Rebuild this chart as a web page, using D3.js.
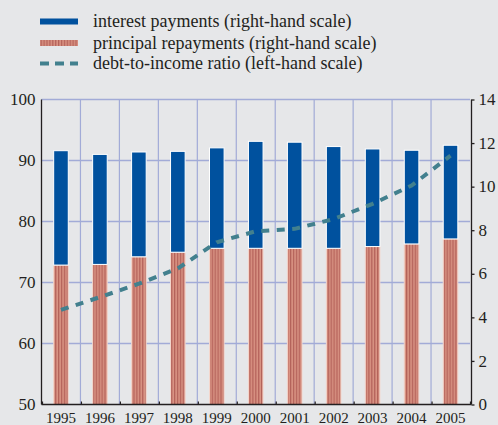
<!DOCTYPE html>
<html><head><meta charset="utf-8">
<script src="https://cdn.jsdelivr.net/npm/d3@7"></script>
<style>
html,body{margin:0;padding:0;background:#e6e7e9;}
#chart text{font-family:"Liberation Serif","Times New Roman",Times,serif;}
</style>
</head>
<body>
<svg id="chart" width="498" height="425" font-family="Liberation Serif"></svg>
<script>
const years = ["1995","1996","1997","1998","1999","2000","2001","2002","2003","2004","2005"];
const principal = [6.40, 6.43, 6.78, 6.99, 7.17, 7.17, 7.17, 7.17, 7.25, 7.37, 7.60];
const interest  = [5.25, 5.05, 4.81, 4.63, 4.61, 4.91, 4.87, 4.67, 4.48, 4.30, 4.30];
const debtRatio = [65.5, 67.6, 69.8, 72.3, 76.6, 78.4, 78.8, 80.4, 82.9, 85.9, 90.8];
const leftTicks = [50, 60, 70, 80, 90, 100];
const rightTicks = [0, 2, 4, 6, 8, 10, 12, 14];
const legendLabels = ["interest payments (right-hand scale)", "principal repayments (right-hand scale)", "debt-to-income ratio (left-hand scale)"];

const FONT = "Liberation Serif";
const svg = d3.select("#chart");
const W = 498, H = 425;
const m = {left: 41.5, right: 470, top: 99.5, bottom: 404.5};
const ink = "#231f20", blue = "#00519e", teal = "#42808e", grid = "#a2abd7";

svg.append("rect").attr("width", W).attr("height", H).attr("fill", "#e6e7e9");

const defs = svg.append("defs");
const pat = defs.append("pattern").attr("id", "stripes").attr("patternUnits", "userSpaceOnUse")
  .attr("width", 2.9).attr("height", 10);
pat.append("rect").attr("width", 2.9).attr("height", 10).attr("fill", "#d99383");
pat.append("rect").attr("width", 1.3).attr("height", 10).attr("fill", "#b4625a");

const x = d3.scaleBand().domain(years).range([m.left, m.right]).padding(0);
const yL = d3.scaleLinear().domain([50, 100]).range([m.bottom, m.top]);
const yR = d3.scaleLinear().domain([0, 14]).range([m.bottom, m.top]);

const g = svg.append("g");
g.selectAll("line.h").data(leftTicks.filter(d => d > 50)).join("line")
  .attr("x1", m.left).attr("x2", m.right).attr("y1", d => yL(d)).attr("y2", d => yL(d))
  .attr("stroke", grid).attr("stroke-width", 1.4);
g.selectAll("line.v").data(years.slice(1)).join("line")
  .attr("x1", d => x(d)).attr("x2", d => x(d)).attr("y1", m.top).attr("y2", m.bottom)
  .attr("stroke", grid).attr("stroke-width", 1.2);

const bw = 14.6;
const bars = svg.append("g");
bars.selectAll("rect.p").data(years).join("rect")
  .attr("x", d => x(d) + x.bandwidth()/2 - bw/2).attr("width", bw)
  .attr("y", (d,i) => yR(principal[i])).attr("height", (d,i) => yR(0) - yR(principal[i]))
  .attr("fill", "url(#stripes)").attr("stroke", "#f4d6cc").attr("stroke-width", 1);
bars.selectAll("rect.i").data(years).join("rect")
  .attr("x", d => x(d) + x.bandwidth()/2 - bw/2).attr("width", bw)
  .attr("y", (d,i) => yR(principal[i] + interest[i])).attr("height", (d,i) => yR(principal[i]) - yR(principal[i] + interest[i]))
  .attr("fill", blue).attr("stroke", "#ffffff").attr("stroke-width", 1);

const line = d3.line().x((d,i) => x(years[i]) + x.bandwidth()/2).y(d => yL(d));
svg.append("path").datum(debtRatio).attr("d", line).attr("fill", "none")
  .attr("stroke", teal).attr("stroke-width", 4).attr("stroke-dasharray", "8,7.5");

const axL = svg.append("g").attr("transform", `translate(${m.left},0)`)
  .call(d3.axisLeft(yL).tickValues(leftTicks).tickSize(0).tickPadding(6));
axL.select(".domain").attr("stroke", ink).attr("stroke-width", 1.3).attr("d", `M0,${m.top}V${m.bottom}`);

const axR = svg.append("g").attr("transform", `translate(${m.right + 1.5},0)`)
  .call(d3.axisRight(yR).tickValues(rightTicks).tickSize(3).tickPadding(4));
axR.select(".domain").attr("stroke", ink).attr("stroke-width", 1.3).attr("d", `M0,${yR(14)}V${m.bottom}`);
axR.selectAll(".tick line").attr("stroke", ink).attr("stroke-width", 1.3);

const axB = svg.append("g").attr("transform", `translate(0,${m.bottom})`)
  .call(d3.axisBottom(x).tickSize(0).tickPadding(0));
axB.select(".domain").attr("stroke", ink).attr("stroke-width", 1.3).attr("d", `M${m.left},0H${m.right + 1.5}`);
svg.append("g").selectAll("line").data(years.concat(["end"])).join("line")
  .attr("x1", (d,i) => i < years.length ? x(d) + 1 : m.right + 0.5)
  .attr("x2", (d,i) => i < years.length ? x(d) + 1 : m.right + 0.5)
  .attr("y1", m.bottom).attr("y2", m.bottom - 3).attr("stroke", ink).attr("stroke-width", 1.2);

[axL, axR, axB].forEach(a => a.attr("font-family", FONT));
[axL, axR].forEach(a => a.attr("font-size", 17).selectAll("text").attr("font-family", FONT).attr("font-size", 17).attr("dy", "0.3em").attr("fill", ink));
axB.attr("font-size", 15).selectAll("text").attr("font-family", FONT).attr("font-size", 15).attr("y", 18).attr("dy", 0).attr("fill", ink);

const lg = svg.append("g").attr("font-family", FONT);
const ly = [21.5, 43, 63.5];
lg.append("rect").attr("x", 40).attr("y", ly[0] - 3).attr("width", 38).attr("height", 6).attr("fill", blue);
lg.append("rect").attr("x", 40).attr("y", ly[1] - 3).attr("width", 38).attr("height", 6).attr("fill", "url(#stripes)");
lg.append("line").attr("x1", 40).attr("x2", 78).attr("y1", ly[2]).attr("y2", ly[2])
  .attr("stroke", teal).attr("stroke-width", 4).attr("stroke-dasharray", "9,6");
lg.selectAll("text").data(legendLabels).join("text")
  .attr("x", 93).attr("y", (d,i) => ly[i]).attr("dy", "0.32em")
  .attr("font-family", FONT).attr("font-size", 18).attr("fill", ink).text(d => d);
</script>
</body></html>
